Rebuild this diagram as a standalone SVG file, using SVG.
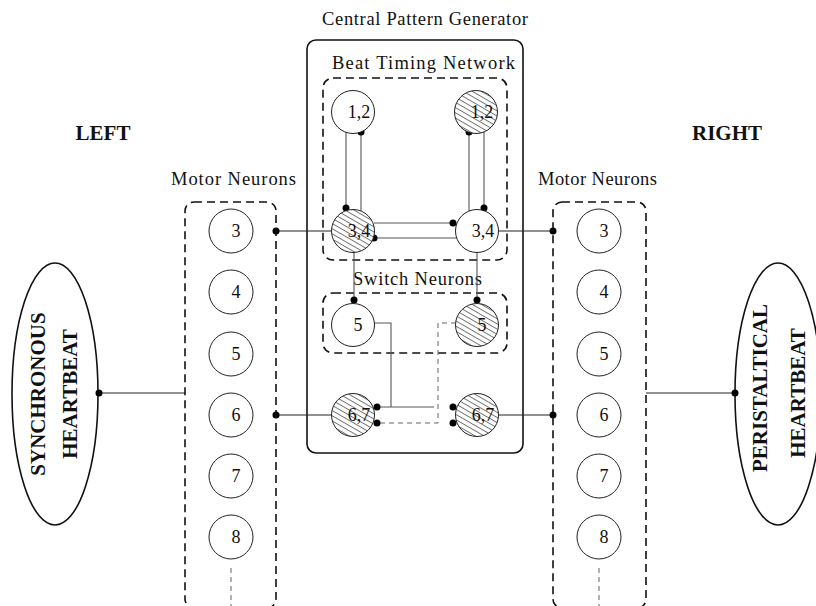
<svg xmlns="http://www.w3.org/2000/svg" width="816" height="606" viewBox="0 0 816 606">
<style>
.t{font-family:"Liberation Serif","Times New Roman",serif;fill:#111}
.lbl{font-size:18.5px}
.num{font-size:18px;text-anchor:middle}
.bold{font-weight:bold}
.neu{fill:#fff;stroke:#222;stroke-width:1}
.hat{fill:url(#hatch);stroke:#222;stroke-width:1}
.dbox{fill:none;stroke:#111;stroke-width:1.6;stroke-dasharray:8 5}
.c{fill:none;stroke:#555;stroke-width:1.1}
.ce{fill:none;stroke:#222;stroke-width:1}
.cd{fill:none;stroke:#666;stroke-width:1;stroke-dasharray:5 4}
.dot{fill:#000}
</style>
<defs>
<pattern id="hatch" patternUnits="userSpaceOnUse" width="4.5" height="4.5" patternTransform="rotate(30)">
<rect width="4.5" height="4.5" fill="#fff"/>
<line x1="0" y1="0.5" x2="4.5" y2="0.5" stroke="#555" stroke-width="0.8"/>
</pattern>
</defs>

<rect width="816" height="606" fill="#fff"/>

<!-- titles -->
<text class="t lbl" x="322" y="25" textLength="206" lengthAdjust="spacing">Central Pattern Generator</text>
<text class="t bold" x="103" y="140" font-size="21" text-anchor="middle">LEFT</text>
<text class="t bold" x="727" y="140" font-size="21" text-anchor="middle">RIGHT</text>

<!-- CPG container -->
<g id="cpg">
<rect x="307" y="40" width="216" height="413" rx="9" fill="none" stroke="#111" stroke-width="1.6"/>
</g>
<g id="beat-timing-network">
<rect class="dbox" x="323" y="78" width="184" height="182" rx="10"/>
<text class="t lbl" x="332" y="69" textLength="183" lengthAdjust="spacing">Beat Timing Network</text>
</g>
<g id="switch-neurons">
<rect class="dbox" x="323" y="293" width="184" height="60" rx="10"/>
<text class="t lbl" x="353" y="285" textLength="129" lengthAdjust="spacing">Switch Neurons</text>
</g>

<!-- connectors -->
<g id="connectors">
<line class="c" x1="346" y1="132" x2="346" y2="209"/>
<line class="c" x1="361" y1="132" x2="361" y2="211"/>
<line class="c" x1="469" y1="132" x2="469" y2="211"/>
<line class="c" x1="484" y1="131" x2="484" y2="209"/>
<line class="c" x1="374" y1="223" x2="456" y2="223"/>
<line class="c" x1="374" y1="238" x2="457" y2="238"/>
<line class="c" x1="354" y1="250" x2="354" y2="300"/>
<line class="c" x1="477" y1="250" x2="477" y2="300"/>
<polyline class="c" points="374,323 391,323 391,407"/>
<line class="c" x1="377" y1="407" x2="434" y2="407"/>
<polyline class="cd" points="456,323 438,323 438,423 377,423"/>
<line class="ce" x1="276" y1="231" x2="332" y2="231"/>
<line class="ce" x1="498" y1="231" x2="553" y2="231"/>
<line class="ce" x1="276" y1="415" x2="332" y2="415"/>
<line class="ce" x1="498" y1="415" x2="553" y2="415"/>
<line class="ce" x1="99" y1="393" x2="185" y2="393"/>
<line class="ce" x1="646" y1="393" x2="735" y2="393"/>
<line class="cd" x1="231" y1="568" x2="231" y2="606" stroke-dasharray="4 3"/>
<line class="cd" x1="599" y1="568" x2="599" y2="606" stroke-dasharray="4 3"/>
<circle class="dot" cx="346" cy="208" r="3.5"/>
<circle class="dot" cx="361" cy="132" r="3.5"/>
<circle class="dot" cx="469" cy="132" r="3.5"/>
<circle class="dot" cx="484" cy="208" r="3.5"/>
<circle class="dot" cx="453" cy="223" r="3.5"/>
<circle class="dot" cx="374" cy="238" r="3.5"/>
<circle class="dot" cx="354" cy="300" r="3.5"/>
<circle class="dot" cx="477" cy="300" r="3.5"/>
<circle class="dot" cx="377" cy="407" r="3.5"/>
<circle class="dot" cx="377" cy="423" r="3.5"/>
<circle class="dot" cx="453" cy="407" r="3.5"/>
<circle class="dot" cx="453" cy="423" r="3.5"/>
<circle class="dot" cx="276" cy="231" r="3.5"/>
<circle class="dot" cx="276" cy="415" r="3.5"/>
<circle class="dot" cx="553" cy="231" r="3.5"/>
<circle class="dot" cx="553" cy="415" r="3.5"/>
</g>

<!-- CPG neurons -->
<g id="L12"><circle class="neu" cx="353" cy="112" r="21.5"/><text class="t num" x="359" y="118">1,2</text></g>
<g id="R12"><circle class="hat" cx="476" cy="112" r="21.5"/><text class="t num" x="482" y="118">1,2</text></g>
<g id="L34"><circle class="hat" cx="353" cy="231" r="21.5"/><text class="t num" x="359" y="237">3,4</text></g>
<g id="R34"><circle class="neu" cx="477" cy="231" r="21.5"/><text class="t num" x="483" y="237">3,4</text></g>
<g id="L5"><circle class="neu" cx="353" cy="325" r="21.5"/><text class="t num" x="358" y="331">5</text></g>
<g id="R5"><circle class="hat" cx="477" cy="325" r="21.5"/><text class="t num" x="482" y="331">5</text></g>
<g id="L67"><circle class="hat" cx="353" cy="415" r="21.5"/><text class="t num" x="359" y="421">6,7</text></g>
<g id="R67"><circle class="hat" cx="477" cy="415" r="21.5"/><text class="t num" x="483" y="421">6,7</text></g>

<!-- Left motor neurons -->
<g id="left-motor-neurons">
<rect class="dbox" x="185" y="202" width="91" height="406" rx="9"/>
<text class="t lbl" x="171" y="185" textLength="125" lengthAdjust="spacing">Motor Neurons</text>
<circle class="neu" cx="231" cy="231" r="22"/><text class="t num" x="236" y="237">3</text>
<circle class="neu" cx="231" cy="292" r="22"/><text class="t num" x="236" y="298">4</text>
<circle class="neu" cx="231" cy="354" r="22"/><text class="t num" x="236" y="360">5</text>
<circle class="neu" cx="231" cy="415" r="22"/><text class="t num" x="236" y="421">6</text>
<circle class="neu" cx="231" cy="476" r="22"/><text class="t num" x="236" y="482">7</text>
<circle class="neu" cx="231" cy="537" r="22"/><text class="t num" x="236" y="543">8</text>
</g>

<!-- Right motor neurons -->
<g id="right-motor-neurons">
<rect class="dbox" x="553" y="202" width="93" height="406" rx="9"/>
<text class="t lbl" x="538" y="185" textLength="119" lengthAdjust="spacing">Motor Neurons</text>
<circle class="neu" cx="599" cy="231" r="22"/><text class="t num" x="604" y="237">3</text>
<circle class="neu" cx="599" cy="292" r="22"/><text class="t num" x="604" y="298">4</text>
<circle class="neu" cx="599" cy="354" r="22"/><text class="t num" x="604" y="360">5</text>
<circle class="neu" cx="599" cy="415" r="22"/><text class="t num" x="604" y="421">6</text>
<circle class="neu" cx="599" cy="476" r="22"/><text class="t num" x="604" y="482">7</text>
<circle class="neu" cx="599" cy="537" r="22"/><text class="t num" x="604" y="543">8</text>
</g>

<!-- Heartbeat ellipses -->
<g id="synchronous-heartbeat">
<ellipse cx="55" cy="394" rx="43" ry="131" fill="#fff" stroke="#111" stroke-width="1.6"/>
<text class="t bold" font-size="21" text-anchor="middle" transform="translate(45,394) rotate(-90)">SYNCHRONOUS</text>
<text class="t bold" font-size="21" text-anchor="middle" transform="translate(77,394) rotate(-90)">HEARTBEAT</text>
</g>
<g id="peristaltical-heartbeat">
<ellipse cx="778" cy="394" rx="43" ry="131" fill="#fff" stroke="#111" stroke-width="1.6"/>
<text class="t bold" font-size="21" text-anchor="middle" transform="translate(767,388) rotate(-90)">PERISTALTICAL</text>
<text class="t bold" font-size="21" text-anchor="middle" transform="translate(805,393) rotate(-90)">HEARTBEAT</text>
</g>
<circle class="dot" cx="99" cy="393" r="3.5"/>
<circle class="dot" cx="735" cy="393" r="3.5"/>
</svg>
